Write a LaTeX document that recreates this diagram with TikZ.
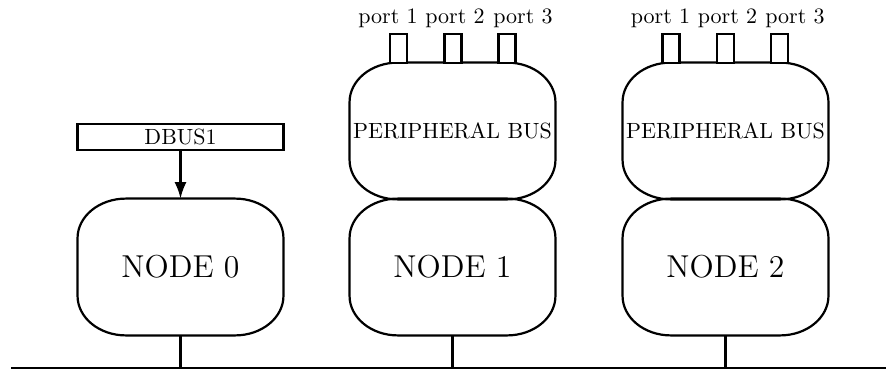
\documentclass[tikz,border=0pt]{standalone}
\usetikzlibrary{arrows.meta}
\tikzset{
  nodebox/.style={minimum width=93.2pt, minimum height=61.8pt, inner sep=0pt, font=\Large},
  busbox/.style={minimum width=93.2pt, minimum height=61.8pt, inner sep=0pt},
  portbox/.style={draw, line width=1pt, fill=white, minimum width=7.7pt, minimum height=13.2pt, inner sep=0pt},
  portlabel/.style={anchor=base, inner sep=0pt},
  dbusbox/.style={draw, line width=1pt, minimum width=93.6pt, minimum height=11.8pt, inner sep=0pt},
  wire/.style={line width=1pt}
}
\newcommand\ellbox[1]{%
  \draw[wire] ([xshift=22pt]#1.north west) -- ([xshift=-22pt]#1.north east)
    arc[start angle=90, end angle=0, x radius=22pt, y radius=18pt]
    -- ([yshift=18pt]#1.south east)
    arc[start angle=0, end angle=-90, x radius=22pt, y radius=18pt]
    -- ([xshift=22pt]#1.south west)
    arc[start angle=270, end angle=180, x radius=22pt, y radius=18pt]
    -- ([yshift=-18pt]#1.north west)
    arc[start angle=180, end angle=90, x radius=22pt, y radius=18pt]
    -- cycle;}
\begin{document}
\begin{tikzpicture}[x=0.45455pt, y=-0.45455pt]
\useasboundingbox (0,0) rectangle (886,369);
% bottom line
\coordinate (bl) at (11,368);
\coordinate (br) at (886,368);
\draw[wire] (bl) -- (br);
% node 0 and dbus
\node[nodebox] (n0) at (180.5,267) {NODE 0};
\ellbox{n0}
\node[dbusbox] (dbus) at (180.5,137) {DBUS1};
\draw[wire, -{Latex[length=7.5pt,width=5.5pt]}] (dbus.south) -- (n0.north);
% node 1 group
\node[nodebox] (n1) at (452.5,267) {NODE 1};
\ellbox{n1}
\node[busbox] (b1) at (452.5,131) {PERIPHERAL BUS};
\ellbox{b1}
\node[portbox] (p11) at (398.5,48.5) {};
\node[portbox] (p12) at (453,48.5) {};
\node[portbox] (p13) at (507,48.5) {};
\node[portlabel] (l11) at (388,24) {port 1};
\node[portlabel] (l12) at (455,24) {port 2};
\node[portlabel] (l13) at (523,24) {port 3};
% node 2 group
\node[nodebox] (n2) at (725.5,267) {NODE 2};
\ellbox{n2}
\node[busbox] (b2) at (725.5,131) {PERIPHERAL BUS};
\ellbox{b2}
\node[portbox] (p21) at (671,48.5) {};
\node[portbox] (p22) at (725.5,48.5) {};
\node[portbox] (p23) at (779.5,48.5) {};
\node[portlabel] (l21) at (660.5,24) {port 1};
\node[portlabel] (l22) at (727.5,24) {port 2};
\node[portlabel] (l23) at (795,24) {port 3};
% drops to bottom line
\draw[wire] (n0.south) -- (n0.south |- bl);
\draw[wire] (n1.south) -- (n1.south |- bl);
\draw[wire] (n2.south) -- (n2.south |- bl);
\end{tikzpicture}
\end{document}
